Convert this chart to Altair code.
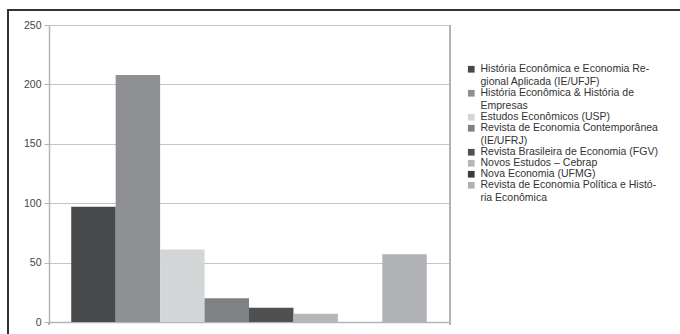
import altair as alt
import pandas as pd

journals = [
    "História Econômica e Economia Re-|gional Aplicada (IE/UFJF)",
    "História Econômica & História de|Empresas",
    "Estudos Econômicos (USP)",
    "Revista de Economia Contemporânea|(IE/UFRJ)",
    "Revista Brasileira de Economia (FGV)",
    "Novos Estudos – Cebrap",
    "Nova Economia (UFMG)",
    "Revista de Economia Política e Histó-|ria Econômica",
]
counts = [97, 208, 61, 20, 12, 7, 0, 57]
colors = ["#48494b", "#8f9093", "#d4d5d7", "#808184", "#4f5052", "#b5b6b8", "#3a3b3d", "#b1b2b5"]
y_ticks = [0, 50, 100, 150, 200, 250]

df = pd.DataFrame({"journal": journals, "count": counts})

W, H = 400, 297

bars = alt.Chart(df).mark_bar(stroke=None).encode(
    x=alt.X("journal:N", sort=journals,
            scale=alt.Scale(paddingInner=0, paddingOuter=0.5),
            axis=alt.Axis(labels=False, ticks=False, title=None, domainColor="#b5b5b5", domainWidth=1.5, grid=False)),
    y=alt.Y("count:Q", scale=alt.Scale(domain=[0, 250], nice=False),
            axis=alt.Axis(values=y_ticks, title=None, tickSize=5, labelPadding=3,
                          tickColor="#b5b5b5", gridColor="#c4c4c4", gridWidth=1.2,
                          domainColor="#b5b5b5", domainWidth=1.5,
                          labelFont="Liberation Sans", labelFontSize=10.5, labelColor="#444")),
    color=alt.Color("journal:N", sort=journals,
                    scale=alt.Scale(domain=journals, range=colors),
                    legend=alt.Legend(title=None, orient="none", legendX=417, legendY=39,
                                      symbolType="square", symbolSize=45, symbolStrokeWidth=0,
                                      labelFont="Liberation Sans", labelFontSize=10.5, labelColor="#333",
                                      labelLimit=300, rowPadding=0, labelOffset=4,
                                      labelExpr="split(datum.label, '|')")),
)

right_line = alt.Chart(df).mark_rule(color="#b5b5b5", strokeWidth=1.5).encode(
    x=alt.value(W + 1), y=alt.value(0), y2=alt.value(H + 3)
)
left_tick = alt.Chart(df).mark_rule(color="#b5b5b5", strokeWidth=1.5).encode(
    x=alt.value(0), y=alt.value(H), y2=alt.value(H + 3)
)
frame = alt.Chart(df).mark_rect(fill=None, stroke="#333", strokeWidth=1.5).encode(
    x=alt.value(-41), x2=alt.value(700), y=alt.value(-15), y2=alt.value(400)
)

chart = alt.layer(bars, right_line, left_tick, frame).properties(
    width=W, height=H,
    autosize=alt.AutoSizeParams(type="none"),
    padding={"left": 49, "top": 25, "right": 231, "bottom": 12},
).configure_view(stroke=None).configure(background="white")

chart.save("out.html", embed_options={"renderer": "svg", "actions": False})
